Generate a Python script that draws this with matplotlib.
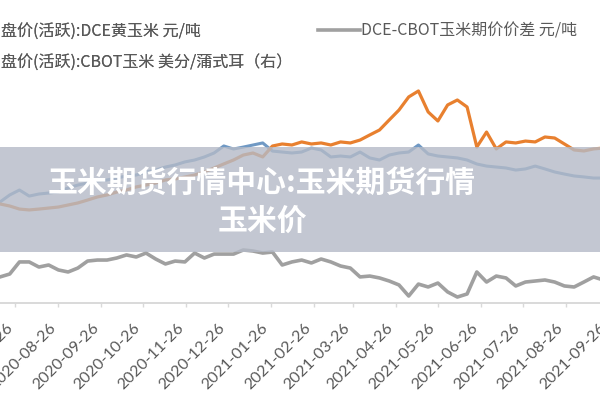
import numpy as np
import pandas as pd
import matplotlib
matplotlib.use("Agg")
import matplotlib.pyplot as plt
import matplotlib.dates as mdates
from matplotlib.patches import Rectangle

plt.rcParams['font.family'] = ['Noto Sans CJK SC', 'DejaVu Sans']

# weekly samples
dates = pd.date_range('2020-07-15', periods=63, freq='7D')

dce_corn = [2180, 2166, 2145, 2139, 2145, 2152, 2159, 2173, 2187, 2207,
            2228, 2242, 2262, 2276, 2297, 2310, 2324, 2345, 2352, 2365,
            2379, 2400, 2427, 2455, 2482, 2516, 2530, 2503, 2578, 2592,
            2585, 2606, 2592, 2599, 2585, 2606, 2599, 2619, 2654, 2688,
            2757, 2825, 2915, 2956, 2812, 2750, 2860, 2894, 2846, 2571,
            2674, 2558, 2606, 2599, 2612, 2606, 2640, 2633, 2592, 2551,
            2544, 2558, 2564]

cbot_corn = [333, 377, 408, 370, 383, 389, 396, 421, 439, 452,
             464, 471, 483, 496, 502, 521, 533, 552, 565, 584,
             596, 615, 640, 684, 665, 677, 690, 703, 652, 646,
             640, 646, 671, 659, 615, 621, 615, 646, 609, 596,
             627, 640, 646, 690, 634, 621, 615, 609, 596, 571,
             558, 552, 546, 533, 540, 558, 540, 521, 508, 496,
             490, 483, 483]

spread = [1679, 1699, 1782, 1782, 1747, 1761, 1727, 1713, 1740, 1788,
          1795, 1795, 1809, 1830, 1816, 1843, 1802, 1768, 1788, 1782,
          1843, 1809, 1836, 1836, 1836, 1864, 1857, 1843, 1850, 1761,
          1782, 1795, 1775, 1802, 1782, 1754, 1740, 1679, 1685, 1672,
          1651, 1624, 1548, 1630, 1610, 1637, 1576, 1541, 1562, 1713,
          1644, 1685, 1672, 1617, 1644, 1651, 1658, 1644, 1617, 1610,
          1644, 1679, 1658]

labels = ['盘价(活跃):DCE黄玉米 元/吨',
          '盘价(活跃):CBOT玉米 美分/蒲式耳（右）',
          'DCE-CBOT玉米期价价差 元/吨']
title = '玉米期货行情中心:玉米期货行情\n玉米价'

c_orange = '#E8802F'
c_blue = '#7099C4'
c_gray = '#A0A0A0'
c_text = '#595959'

fig = plt.figure(figsize=(6, 4), dpi=100)
# axes run a little past the right edge, as in the cropped original
ax = fig.add_axes([0, 0.2425, 620 / 600, 0.5825])
ax2 = ax.twinx()

l1, = ax.plot(dates, dce_corn, color=c_orange, lw=2.3, label=labels[0])
l3, = ax.plot(dates, spread, color=c_gray, lw=2.6, label=labels[2])
l2, = ax2.plot(dates, cbot_corn, color=c_blue, lw=2.2, label=labels[1])
ax.set_zorder(ax2.get_zorder() + 1)
ax.patch.set_visible(False)

ax.set_ylim(1500, 3100)
ax2.set_ylim(-300, 1160)
ax.set_xlim(pd.Timestamp('2020-07-15'), pd.Timestamp('2021-10-04'))

ax.xaxis.set_major_locator(mdates.MonthLocator(bymonthday=26))
ax.xaxis.set_major_formatter(mdates.DateFormatter('%Y-%m-%d'))
for lab in ax.get_xticklabels():
    lab.set_rotation(45)
    lab.set_ha('right')
    lab.set_fontfamily('Lato')
ax.tick_params(axis='x', colors='#d9d9d9', labelcolor=c_text, labelsize=11.5,
               length=3, width=1, pad=10)
ax.set_yticks([])
ax2.set_yticks([])
for a in (ax, ax2):
    for s in ('top', 'left', 'right'):
        a.spines[s].set_visible(False)
    a.spines['bottom'].set_color('#d9d9d9')
    a.spines['bottom'].set_linewidth(1.2)

leg1 = fig.legend(handles=[l1, l2], loc='upper left',
                  bbox_to_anchor=(-0.086, 1 - 23 / 400), frameon=False,
                  fontsize=11.5, labelcolor=c_text, handlelength=3,
                  handletextpad=0.3, borderpad=0, borderaxespad=0,
                  labelspacing=0.85)
leg2 = fig.legend(handles=[l3], loc='upper left',
                  bbox_to_anchor=(318 / 600, 1 - 23 / 400), frameon=False,
                  fontsize=11.5, labelcolor=c_text, handlelength=2.6,
                  handletextpad=0.1, borderpad=0, borderaxespad=0)
fig.add_artist(leg1)

# banner over the chart
fig.add_artist(Rectangle((0, 1 - 252 / 400), 1, 105 / 400,
                         transform=fig.transFigure, facecolor='#B4BAC7',
                         alpha=0.8, edgecolor='none', zorder=5))
fig.text(262 / 600, 1 - 202 / 400, title, ha='center', va='center',
         multialignment='center', color='white', fontsize=21.5,
         fontweight='bold', linespacing=1.35, zorder=6)

fig.savefig('out.png', dpi=100)
